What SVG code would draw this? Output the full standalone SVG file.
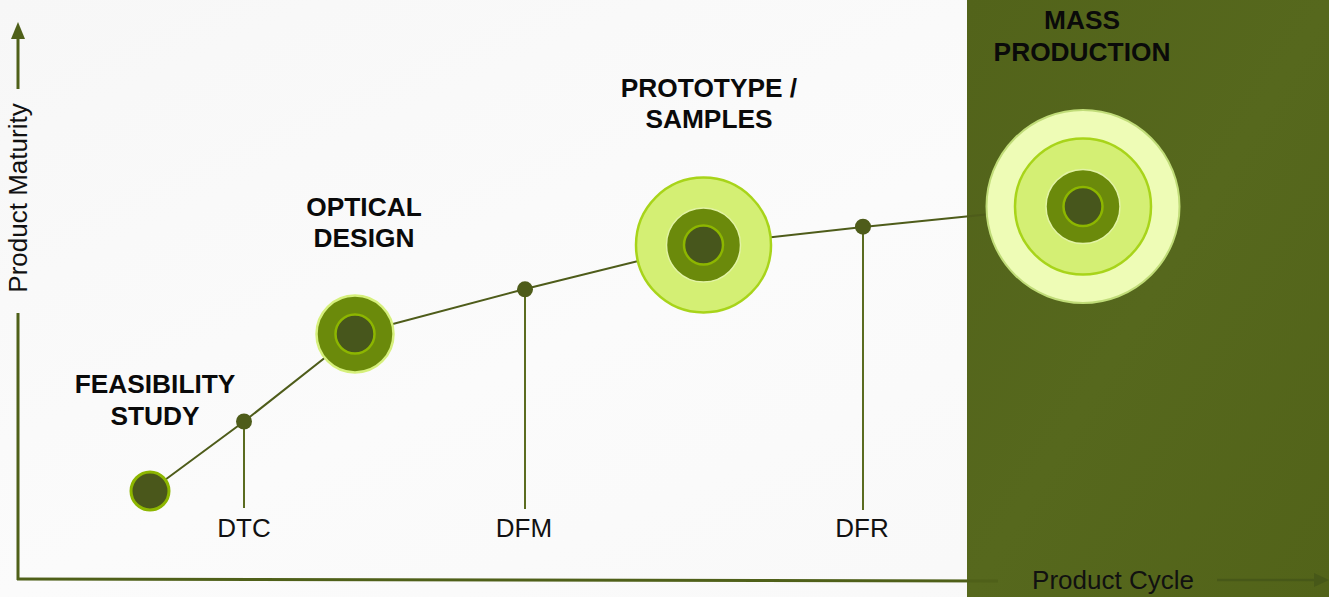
<svg xmlns="http://www.w3.org/2000/svg" width="1329" height="597" viewBox="0 0 1329 597">
  <defs>
    <linearGradient id="bgGrad" x1="0" y1="0" x2="1" y2="1">
      <stop offset="0" stop-color="#f7f7f7"/>
      <stop offset="0.5" stop-color="#fbfbfb"/>
      <stop offset="1" stop-color="#f8f8f8"/>
    </linearGradient>
    <linearGradient id="panelGrad" x1="0" y1="0" x2="1" y2="1">
      <stop offset="0" stop-color="#52631a"/>
      <stop offset="0.5" stop-color="#56681d"/>
      <stop offset="1" stop-color="#526319"/>
    </linearGradient>
    <style>
      .axis { stroke: #4f6019; stroke-width: 3; fill: none; }
      .conn { stroke: #4e5c1a; stroke-width: 2; fill: none; }
      .drop { stroke: #5b6c20; stroke-width: 2; fill: none; }
      .dot { fill: #4e5c1a; }
      .core { fill: #47561c; stroke: #8db600; stroke-width: 2.5; }
      .mid { fill: #6b8a0b; stroke: #e2f3a4; stroke-width: 1.5; }
      .ring { fill: #d4ef74; stroke: #a8d41a; stroke-width: 2.5; }
      .halo { fill: #eefcb6; stroke: #c0dc78; stroke-width: 2; }
      .title { font-family: "Liberation Sans", Arial, sans-serif; font-weight: bold; font-size: 26.3px; fill: #0a0a0a; text-anchor: middle; }
      .lbl { font-family: "Liberation Sans", Arial, sans-serif; font-size: 26px; fill: #111; text-anchor: middle; }
    </style>
  </defs>

  <rect x="0" y="0" width="1329" height="597" fill="url(#bgGrad)"/>
  <rect x="967" y="0" width="362" height="597" fill="url(#panelGrad)"/>

  <g id="axes">
    <line class="axis" x1="18" y1="38" x2="18" y2="89"/>
    <line class="axis" x1="18" y1="313" x2="18" y2="580"/>
    <polygon points="18,22 11,39 25,39" fill="#4f6019"/>
    <text class="lbl" transform="translate(27,198) rotate(-90)">Product Maturity</text>
    <line class="axis" x1="17" y1="579" x2="998" y2="581"/>
    <text class="lbl" x="1113" y="589">Product Cycle</text>
    <line x1="1217" y1="580" x2="1316" y2="580" stroke="#475818" stroke-width="2.5"/>
    <polygon points="1329,580 1314,573 1314,587" fill="#475818"/>
  </g>

  <g id="connectors">
    <polyline class="conn" points="150,491 244,421.5 355,334"/>
    <polyline class="conn" points="355,334 525,289 703,245 863,227 986,214.5"/>
    <line class="drop" x1="244" y1="421" x2="244" y2="508"/>
    <line class="drop" x1="525" y1="289" x2="525" y2="509"/>
    <line class="drop" x1="863" y1="227" x2="863" y2="510"/>
    <circle class="dot" cx="244" cy="421.5" r="8"/>
    <circle class="dot" cx="525" cy="289.3" r="8"/>
    <circle class="dot" cx="863" cy="226.7" r="8"/>
  </g>

  <g id="feasibility">
    <circle cx="150" cy="491" r="19" fill="#4a571b" stroke="#8db600" stroke-width="3"/>
    <text class="title" x="155" y="393">FEASIBILITY</text>
    <text class="title" x="155" y="425">STUDY</text>
  </g>

  <g id="optical">
    <circle cx="355" cy="334" r="38.5" fill="#6b8a0b" stroke="#d6f07c" stroke-width="2.5"/>
    <circle class="core" cx="355" cy="334" r="19.5"/>
    <text class="title" x="364" y="216">OPTICAL</text>
    <text class="title" x="364" y="247">DESIGN</text>
  </g>

  <g id="prototype">
    <circle class="ring" cx="703.5" cy="245" r="67.5"/>
    <circle class="mid" cx="703.5" cy="245" r="37"/>
    <circle class="core" cx="703.5" cy="245" r="19.5"/>
    <text class="title" x="709" y="97">PROTOTYPE /</text>
    <text class="title" x="709" y="128">SAMPLES</text>
  </g>

  <g id="mass">
    <circle class="halo" cx="1083" cy="206.5" r="96.5"/>
    <circle class="ring" cx="1083" cy="206.5" r="68"/>
    <circle class="mid" cx="1083" cy="206.5" r="37"/>
    <circle class="core" cx="1083" cy="206.5" r="19.5"/>
    <text class="title" x="1082" y="29">MASS</text>
    <text class="title" x="1082" y="61">PRODUCTION</text>
  </g>

  <g id="labels">
    <text class="lbl" x="244" y="537">DTC</text>
    <text class="lbl" x="524" y="537">DFM</text>
    <text class="lbl" x="862" y="537">DFR</text>
  </g>
</svg>
